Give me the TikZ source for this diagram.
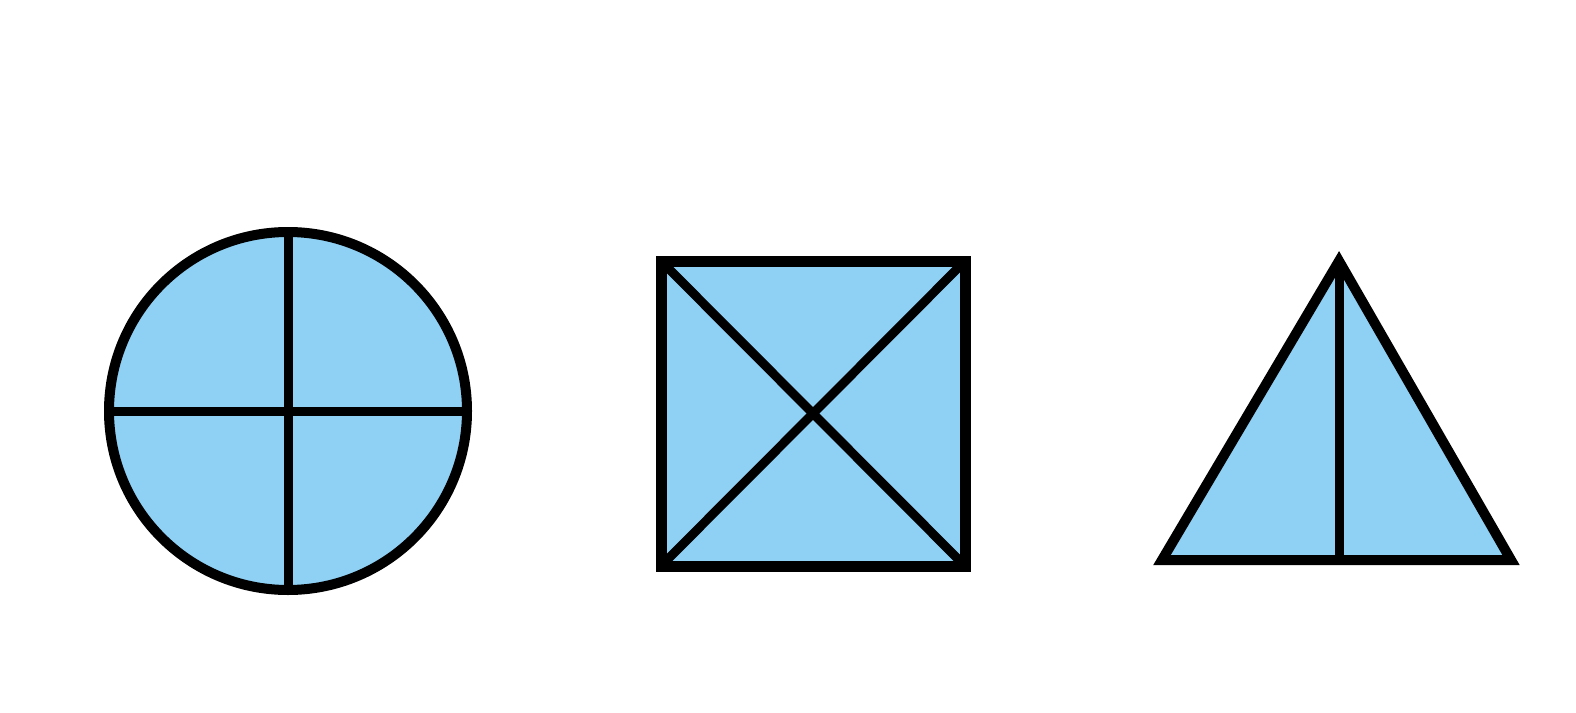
\documentclass[tikz,border=0pt]{standalone}
\usepackage{tikz}
\definecolor{fillblue}{RGB}{142,209,245}
\tikzset{
  shapeedge/.style={draw=black, line width=10pt, fill=fillblue, line join=miter},
  divider/.style={draw=black, line width=9pt, line cap=butt}
}
\begin{document}
\begin{tikzpicture}[x=1pt,y=-1pt]
\useasboundingbox[fill=white] (0,0) rectangle (1576,712);
% circle
\coordinate (cc) at (288,411);
\draw[shapeedge] (cc) circle[radius=179];
\draw[divider] (288,232) -- (288,590);
\draw[divider] (109,411) -- (467,411);
% square
\coordinate (sA) at (661,261);
\coordinate (sB) at (965,261);
\coordinate (sC) at (965,566);
\coordinate (sD) at (661,566);
\draw[shapeedge, line width=11pt] (sA) -- (sB) -- (sC) -- (sD) -- cycle;
\draw[divider] (sA) -- (sC);
\draw[divider] (sB) -- (sD);
% triangle
\coordinate (tA) at (1339,261);
\coordinate (tB) at (1511,560);
\coordinate (tC) at (1162,560);
\draw[shapeedge] (tA) -- (tB) -- (tC) -- cycle;
\draw[divider] (tA) -- (1339,560);
\end{tikzpicture}
\end{document}
